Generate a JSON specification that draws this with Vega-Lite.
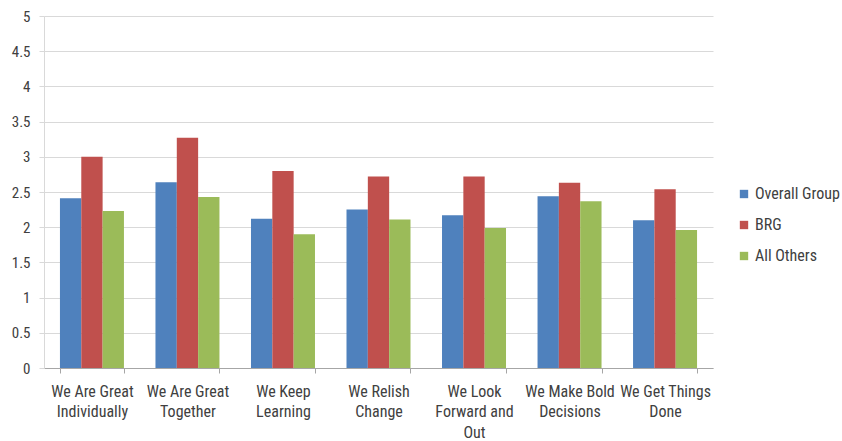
{
  "$schema": "https://vega.github.io/schema/vega-lite/v6.json",
  "width": 669,
  "height": 352,
  "autosize": {"type": "none"},
  "padding": {"left": 44, "top": 16, "right": 129, "bottom": 73},
  "background": "white",
  "config": {
    "view": {"stroke": null},
    "font": "'Liberation Sans Narrow', 'Roboto Condensed', 'Open Sans', sans-serif",
    "axis": {"labelFont": "'Liberation Sans Narrow', 'Roboto Condensed', 'Open Sans', sans-serif", "labelColor": "#404040"}
  },
  "data": {
    "values": [
      {"cat": "We Are Great|Individually", "series": "Overall Group", "value": 2.41},
      {"cat": "We Are Great|Individually", "series": "BRG", "value": 3.0},
      {"cat": "We Are Great|Individually", "series": "All Others", "value": 2.23},
      {"cat": "We Are Great|Together", "series": "Overall Group", "value": 2.64},
      {"cat": "We Are Great|Together", "series": "BRG", "value": 3.27},
      {"cat": "We Are Great|Together", "series": "All Others", "value": 2.43},
      {"cat": "We Keep|Learning", "series": "Overall Group", "value": 2.12},
      {"cat": "We Keep|Learning", "series": "BRG", "value": 2.8},
      {"cat": "We Keep|Learning", "series": "All Others", "value": 1.9},
      {"cat": "We Relish|Change", "series": "Overall Group", "value": 2.25},
      {"cat": "We Relish|Change", "series": "BRG", "value": 2.72},
      {"cat": "We Relish|Change", "series": "All Others", "value": 2.11},
      {"cat": "We Look|Forward and|Out", "series": "Overall Group", "value": 2.17},
      {"cat": "We Look|Forward and|Out", "series": "BRG", "value": 2.72},
      {"cat": "We Look|Forward and|Out", "series": "All Others", "value": 1.99},
      {"cat": "We Make Bold|Decisions", "series": "Overall Group", "value": 2.44},
      {"cat": "We Make Bold|Decisions", "series": "BRG", "value": 2.63},
      {"cat": "We Make Bold|Decisions", "series": "All Others", "value": 2.37},
      {"cat": "We Get Things|Done", "series": "Overall Group", "value": 2.1},
      {"cat": "We Get Things|Done", "series": "BRG", "value": 2.54},
      {"cat": "We Get Things|Done", "series": "All Others", "value": 1.96}
    ]
  },
  "mark": {"type": "bar"},
  "encoding": {
    "x": {
      "field": "cat",
      "type": "nominal",
      "sort": null,
      "scale": {"paddingInner": 0.33, "paddingOuter": 0.167},
      "axis": {
        "title": null,
        "labelAngle": 0,
        "labelFontSize": 16,
        "labelExpr": "split(datum.label, '|')",
        "labelLineHeight": 20.5,
        "labelPadding": 10,
        "tickBand": "extent",
        "tickSize": 5,
        "tickColor": "#A6A6A6",
        "domainColor": "#A6A6A6",
        "labelLimit": 0
      }
    },
    "xOffset": {"field": "series", "type": "nominal", "sort": ["Overall Group", "BRG", "All Others"]},
    "y": {
      "field": "value",
      "type": "quantitative",
      "scale": {"domain": [0, 5]},
      "axis": {
        "title": null,
        "values": [0, 0.5, 1, 1.5, 2, 2.5, 3, 3.5, 4, 4.5, 5],
        "labelExpr": "datum.value",
        "labelFontSize": 15,
        "gridColor": "#D9D9D9",
        "tickColor": "#D9D9D9",
        "domainColor": "#D9D9D9",
        "tickSize": 5,
        "labelPadding": 9
      }
    },
    "color": {
      "field": "series",
      "type": "nominal",
      "sort": ["Overall Group", "BRG", "All Others"],
      "scale": {"domain": ["Overall Group", "BRG", "All Others"], "range": ["#4F81BD", "#C0504D", "#9BBB59"]},
      "legend": {
        "title": null,
        "orient": "none",
        "legendX": 692,
        "legendY": 170,
        "symbolType": "square",
        "symbolSize": 70,
        "symbolStrokeWidth": 0,
        "labelFontSize": 16,
        "labelOffset": 3,
        "labelFont": "'Liberation Sans Narrow', 'Roboto Condensed', 'Open Sans', sans-serif",
        "labelColor": "#404040",
        "rowPadding": 15
      }
    }
  }
}
